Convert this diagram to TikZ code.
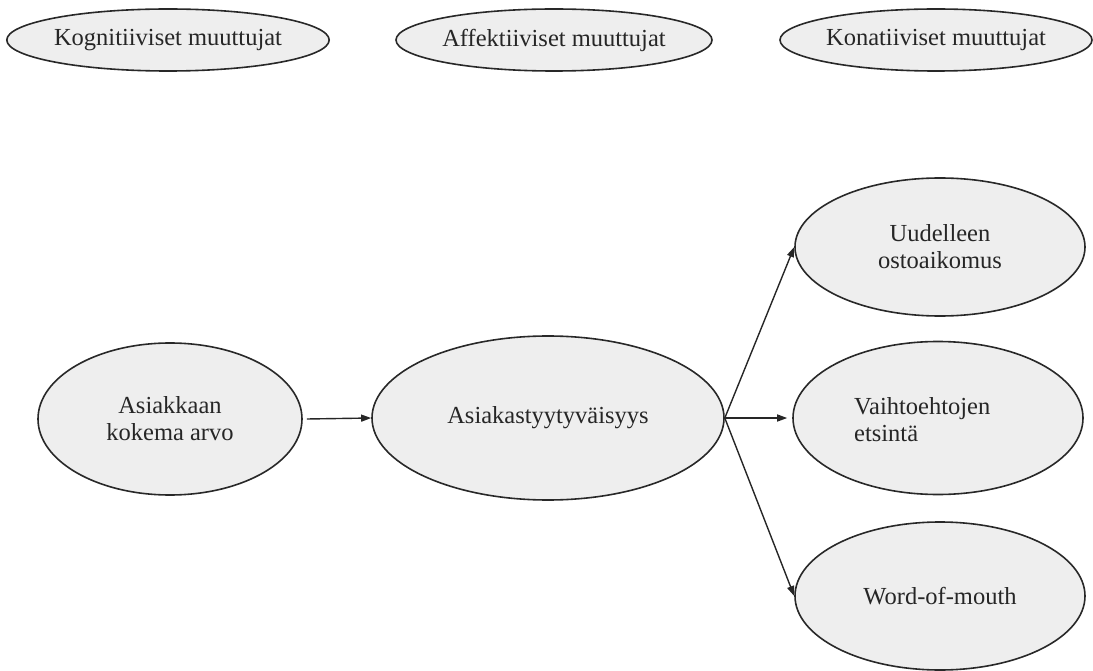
\documentclass[tikz,border=0pt]{standalone}
\usepackage{fontspec}
\setmainfont{Liberation Serif}
\usetikzlibrary{shapes.geometric,arrows.meta}
\definecolor{bubble}{RGB}{238,238,238}
\definecolor{rim}{RGB}{40,40,40}
\begin{document}
\begin{tikzpicture}[x=1pt,y=-1pt,
  oval/.style={ellipse,draw=rim,fill=bubble,line width=1.6pt,inner sep=0pt,
    font=\fontsize{24.5}{27}\selectfont,text=black!85,align=center},
  txt/.style={font=\fontsize{24.5}{27}\selectfont,text=black!85,inner sep=0pt},
  link/.style={draw=black!85,line width=1.4pt,-{Triangle[length=10pt,width=7pt]}}]
\useasboundingbox (0,0) rectangle (1093,671);
% variable groups
\node[oval,minimum width=320pt,minimum height=62pt] (kog) at (168,40) {Kognitiiviset muuttujat};
\node[oval,minimum width=316pt,minimum height=62pt] (aff) at (554,40) {Affektiiviset muuttujat};
\node[oval,minimum width=312pt,minimum height=62pt] (kon) at (936,40) {Konatiiviset muuttujat};
% model
\node[oval,minimum width=264pt,minimum height=152pt] (arvo) at (170,419) {Asiakkaan\\kokema arvo};
\node[oval,minimum width=352pt,minimum height=164pt] (tyyt) at (548,418) {Asiakastyytyväisyys};
\node[oval,minimum width=290pt,minimum height=138pt] (osto) at (940,247) {Uudelleen\\ostoaikomus};
\node[oval,minimum width=290pt,minimum height=153pt] (vaiht) at (938,418) {};
\node[txt,align=left,anchor=west] (vaihtt) at (854,420) {Vaihtoehtojen\\etsintä};
\node[oval,minimum width=290pt,minimum height=148pt] (wom) at (940,596) {Word-of-mouth};
% effects
\draw[link] ([xshift=4pt]arvo.east) -- (tyyt.west);
\draw[link] (tyyt.east) -- (osto.west);
\draw[link,shorten >=5pt] (tyyt.east) -- (vaiht.west);
\draw[link] (tyyt.east) -- (wom.west);
\end{tikzpicture}
\end{document}
